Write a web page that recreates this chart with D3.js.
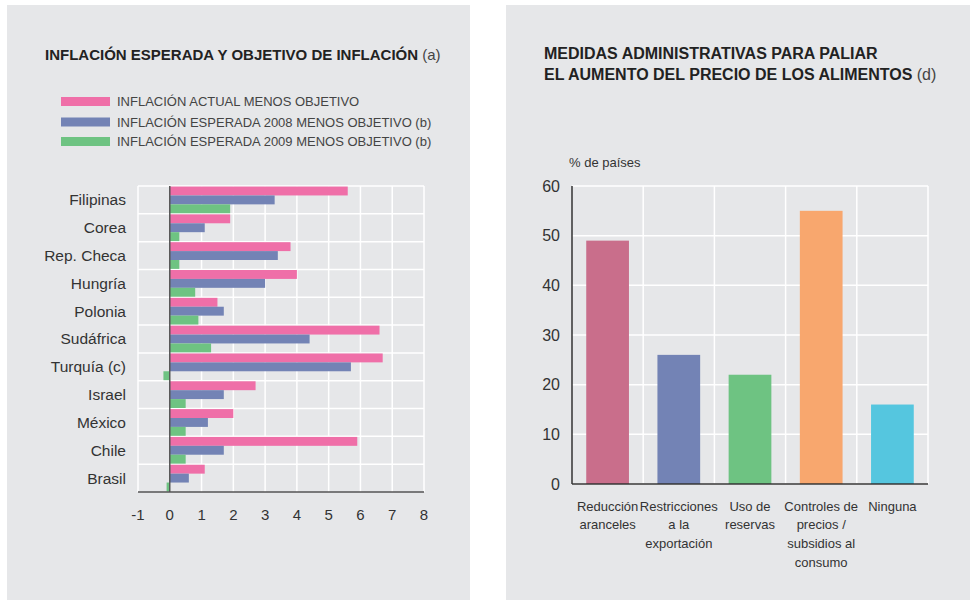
<!DOCTYPE html>
<html>
<head>
<meta charset="utf-8">
<script src="https://cdn.jsdelivr.net/npm/d3@7"></script>
<style>
	body { margin: 0; background: #fff; }
	svg { display: block; font-family: "Liberation Sans", Arial, sans-serif; }
</style>
</head>
<body>
<svg id="canvas" width="970" height="601"></svg>
<script>
// left chart data
var countries = ["Filipinas", "Corea", "Rep. Checa", "Hungría", "Polonia", "Sudáfrica", "Turquía (c)", "Israel", "México", "Chile", "Brasil"];
var actual = [5.6, 1.9, 3.8, 4.0, 1.5, 6.6, 6.7, 2.7, 2.0, 5.9, 1.1];
var expected2008 = [3.3, 1.1, 3.4, 3.0, 1.7, 4.4, 5.7, 1.7, 1.2, 1.7, 0.6];
var expected2009 = [1.9, 0.3, 0.3, 0.8, 0.9, 1.3, -0.2, 0.5, 0.5, 0.5, -0.1];
var seriesNames = ["INFLACIÓN ACTUAL MENOS OBJETIVO", "INFLACIÓN ESPERADA 2008 MENOS OBJETIVO (b)", "INFLACIÓN ESPERADA 2009 MENOS OBJETIVO (b)"];
var xTicks = [-1, 0, 1, 2, 3, 4, 5, 6, 7, 8];

// right chart data
var measures = [["Reducción", "aranceles"], ["Restricciones", "a la", "exportación"], ["Uso de", "reservas"], ["Controles de", "precios /", "subsidios al", "consumo"], ["Ninguna"]];
var shares = [49, 26, 22, 55, 16];
var yTicks = [0, 10, 20, 30, 40, 50, 60];

var seriesColors = ["#ef6fa8", "#7383b5", "#6ec382"];
var barColors = ["#c96e8b", "#7383b5", "#6ec382", "#f8a76e", "#55c6df"];
var panelColor = "#e6e7e9";
var textColor = "#333";

const svg = d3.select("#canvas");

// panels
svg.append("rect").attr("x", 7).attr("y", 5).attr("width", 463).attr("height", 595).attr("fill", panelColor);
svg.append("rect").attr("x", 506).attr("y", 5).attr("width", 464).attr("height", 595).attr("fill", panelColor);

// ---------- left chart ----------
const left = svg.append("g");

const title1 = left.append("text").attr("x", 45).attr("y", 60)
	.attr("font-size", 15).attr("fill", "#222");
title1.append("tspan").attr("font-weight", "bold").text("INFLACIÓN ESPERADA Y OBJETIVO DE INFLACIÓN");
title1.append("tspan").attr("font-weight", "normal").attr("fill", "#444").text(" (a)");

// legend
const legendY = [101.5, 122, 141.5];
seriesNames.forEach((name, i) => {
	left.append("rect").attr("x", 61).attr("y", legendY[i] - 4.5).attr("width", 49).attr("height", 9)
		.attr("fill", seriesColors[i]);
	left.append("text").attr("x", 117).attr("y", legendY[i]).attr("dy", "0.35em")
		.attr("font-size", 13).attr("fill", "#444").text(name);
});

const x = d3.scaleLinear().domain([-1, 8]).range([138, 424]);
const y = d3.scaleBand().domain(countries).range([186, 492]).paddingInner(0.04).paddingOuter(0.02);
const ySub = d3.scaleBand().domain([0, 1, 2]).range([0, y.bandwidth()]);

// grid
const bandStep = (492 - 186) / countries.length;
left.append("g").selectAll("line").data(xTicks).join("line")
	.attr("x1", d => x(d)).attr("x2", d => x(d)).attr("y1", 186).attr("y2", 492)
	.attr("stroke", "#fff").attr("stroke-width", 1.5);
left.append("g").selectAll("line").data(d3.range(countries.length)).join("line")
	.attr("x1", 138).attr("x2", 424)
	.attr("y1", d => 186 + d * bandStep).attr("y2", d => 186 + d * bandStep)
	.attr("stroke", "#fff").attr("stroke-width", 1.5);

// bars
const allSeries = [actual, expected2008, expected2009];
allSeries.forEach((values, s) => {
	left.append("g").selectAll("rect").data(values).join("rect")
		.attr("x", d => x(Math.min(0, d)))
		.attr("width", d => Math.abs(x(d) - x(0)))
		.attr("y", (d, i) => y(countries[i]) + ySub(s))
		.attr("height", ySub.bandwidth())
		.attr("fill", seriesColors[s]);
});

// zero line and bottom axis
left.append("line").attr("x1", x(0)).attr("x2", x(0)).attr("y1", 186).attr("y2", 492)
	.attr("stroke", "#555").attr("stroke-width", 1.5);
left.append("line").attr("x1", 138).attr("x2", 424).attr("y1", 492).attr("y2", 492)
	.attr("stroke", "#555").attr("stroke-width", 1.5);

// country labels
left.append("g").selectAll("text").data(countries).join("text")
	.attr("x", 126).attr("y", d => y(d) + y.bandwidth() / 2).attr("dy", "0.35em")
	.attr("text-anchor", "end").attr("font-size", 15.5).attr("fill", textColor).text(d => d);

// tick labels
left.append("g").selectAll("text").data(xTicks).join("text")
	.attr("x", d => x(d)).attr("y", 515).attr("dy", "0.35em")
	.attr("text-anchor", "middle").attr("font-size", 15).attr("fill", textColor).text(d => d);

// ---------- right chart ----------
const right = svg.append("g");

const t2 = right.append("text").attr("font-size", 16).attr("fill", "#222");
t2.append("tspan").attr("x", 544).attr("y", 59).attr("font-weight", "bold").text("MEDIDAS ADMINISTRATIVAS PARA PALIAR");
t2.append("tspan").attr("x", 544).attr("y", 80).attr("font-weight", "bold").text("EL AUMENTO DEL PRECIO DE LOS ALIMENTOS");
t2.append("tspan").attr("font-weight", "normal").attr("fill", "#444").text(" (d)");

right.append("text").attr("x", 569).attr("y", 162).attr("dy", "0.35em")
	.attr("font-size", 13).attr("fill", textColor).text("% de países");

const yR = d3.scaleLinear().domain([0, 60]).range([484, 186]);
const xR = d3.scaleBand().domain(d3.range(measures.length)).range([572, 928]).paddingInner(0.4).paddingOuter(0.2);
const step = xR.step();

// grid
right.append("g").selectAll("line").data(yTicks).join("line")
	.attr("x1", 572).attr("x2", 928).attr("y1", d => yR(d)).attr("y2", d => yR(d))
	.attr("stroke", "#fff").attr("stroke-width", 1.5);
right.append("g").selectAll("line").data(d3.range(1, measures.length + 1)).join("line")
	.attr("x1", d => 572 + d * step).attr("x2", d => 572 + d * step)
	.attr("y1", 186).attr("y2", 484)
	.attr("stroke", "#fff").attr("stroke-width", 1.5);

// bars
right.append("g").selectAll("rect").data(shares).join("rect")
	.attr("x", (d, i) => xR(i)).attr("width", xR.bandwidth())
	.attr("y", d => yR(d)).attr("height", d => yR(0) - yR(d))
	.attr("fill", (d, i) => barColors[i]);

// axes lines
right.append("line").attr("x1", 572).attr("x2", 572).attr("y1", 186).attr("y2", 484)
	.attr("stroke", "#333").attr("stroke-width", 1.5);
right.append("line").attr("x1", 572).attr("x2", 928).attr("y1", 484).attr("y2", 484)
	.attr("stroke", "#333").attr("stroke-width", 1.5);

// y tick labels
right.append("g").selectAll("text").data(yTicks).join("text")
	.attr("x", 560).attr("y", d => yR(d)).attr("dy", "0.35em")
	.attr("text-anchor", "end").attr("font-size", 16).attr("fill", textColor).text(d => d);

// category labels
measures.forEach((lines, i) => {
	const t = right.append("text").attr("text-anchor", "middle").attr("font-size", 13).attr("fill", textColor);
	lines.forEach((line, j) => {
		t.append("tspan").attr("x", xR(i) + xR.bandwidth() / 2).attr("y", 506 + j * 18.7)
			.attr("dy", "0.35em").text(line);
	});
});
</script>
</body>
</html>
